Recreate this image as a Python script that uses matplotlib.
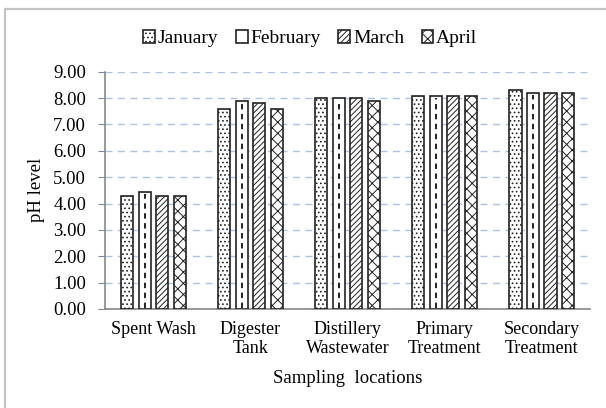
import numpy as np
import matplotlib
matplotlib.use('Agg')
import matplotlib.pyplot as plt
from matplotlib.patches import Rectangle

plt.rcParams['font.family'] = ['Liberation Serif', 'DejaVu Serif']
plt.rcParams['hatch.linewidth'] = 0.7

locations = ['Spent Wash', 'Digester\nTank', 'Distillery\nWastewater',
             'Primary\nTreatment', 'Secondary\nTreatment']
months = ['January', 'February', 'March', 'April']
january = [4.30, 7.60, 8.00, 8.10, 8.30]
february = [4.45, 7.90, 8.00, 8.10, 8.20]
march = [4.30, 7.80, 8.00, 8.10, 8.20]
april = [4.30, 7.60, 7.90, 8.10, 8.20]
series = [january, february, march, april]
hatches = ['....', '', '//////', 'xxx']

fig = plt.figure(figsize=(6.06, 4.08), dpi=100)
ax = fig.add_axes([0.173, 0.243, 0.801, 0.581])

x = np.arange(len(locations))
width = 0.125
pitch = 0.18
handles = []
for i, vals in enumerate(series):
    pos = x + (i - 1.5) * pitch
    bars = ax.bar(pos, vals, width, color='white', edgecolor='#222222',
                  linewidth=1.2, hatch=hatches[i], label=months[i], zorder=3)
    handles.append(bars)
    if i == 1:
        # dashed centre line pattern of February bars
        for p, v in zip(pos, vals):
            ax.plot([p, p], [0.05, v - 0.08], color='#111111', lw=1.3,
                    dashes=(3, 2.5), zorder=4)

ax.set_ylim(0, 9)
ax.set_xlim(-0.5, len(locations) - 0.5)
ax.set_yticks(np.arange(0, 9.5, 1.0))
ax.set_yticklabels(['%.2f' % v for v in np.arange(0, 9.5, 1.0)], fontsize=13.5)
ax.set_xticks(x)
ax.set_xticklabels(locations, fontsize=13, linespacing=1.15)
ax.tick_params(axis='x', length=0, pad=9)
ax.tick_params(axis='y', length=5, color='#888888', direction='out', pad=8.5)
ax.yaxis.grid(True, color='#a9c4eb', linestyle=(0, (5, 4)), lw=1.0, zorder=0)
for s in ['top', 'right']:
    ax.spines[s].set_visible(False)
ax.spines['left'].set_color('#888888')
ax.spines['bottom'].set_color('#888888')
ax.spines['left'].set_linewidth(1.2)
ax.spines['bottom'].set_linewidth(1.2)

ax.set_ylabel('pH level', fontsize=13.5, labelpad=6)
ax.set_xlabel('Sampling  locations', fontsize=13.5, labelpad=9)

fig.legend(handles=handles, labels=months, loc='center', bbox_to_anchor=(0.512, 0.905),
           ncol=4, frameon=False, fontsize=14, handlelength=0.6, handleheight=0.6,
           handletextpad=0.15, columnspacing=0.9)

# outer frame, cut off at right and bottom as in the source image
fig.patches.append(Rectangle((0.009, -0.05), 1.1, 0.028 + 1.0, transform=fig.transFigure,
                             fill=False, edgecolor='#c4c4c4', lw=1.6))

fig.savefig('out.png', dpi=100)
